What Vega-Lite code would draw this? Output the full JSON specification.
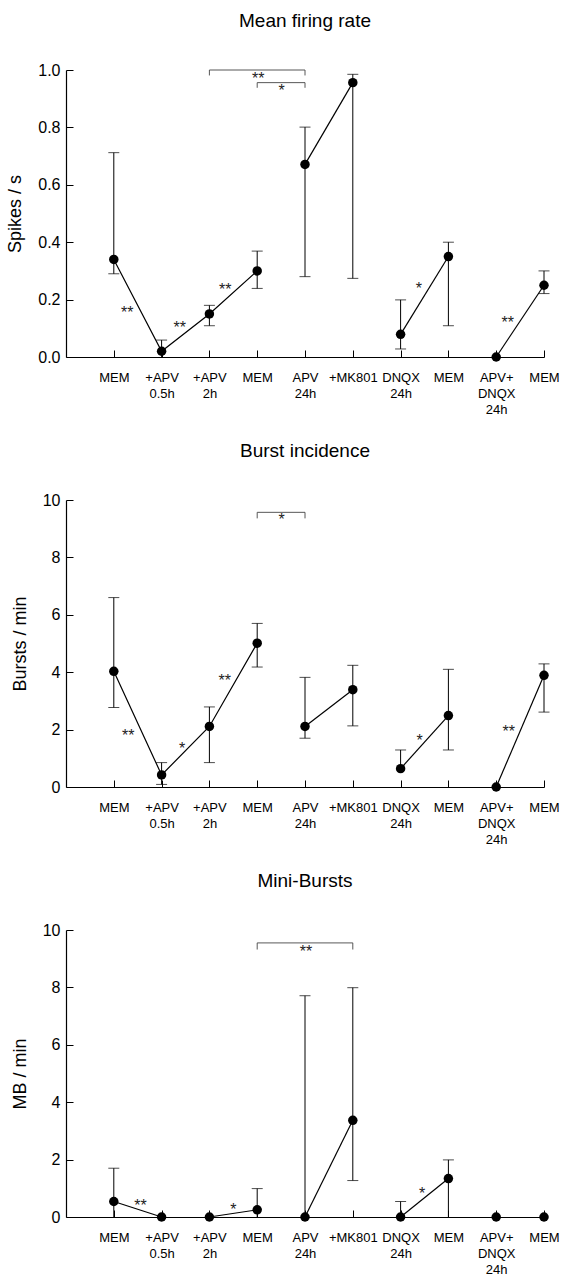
{
  "$schema": "https://vega.github.io/schema/vega-lite/v6.json",
  "background": "white",
  "padding": {"left": 6, "top": 12, "right": 5, "bottom": 5},
  "bounds": "flush",
  "spacing": 143,
  "config": {
    "font": "Liberation Sans",
    "view": {"stroke": null},
    "title": {"fontSize": 19, "fontWeight": "normal", "font": "Liberation Sans", "anchor": "middle", "baseline": "alphabetic", "offset": 31, "color": "black"},
    "axis": {"domainColor": "black", "domainWidth": 1.2, "tickColor": "black", "tickWidth": 1, "tickSize": -7, "grid": false, "labelColor": "black", "titleColor": "black", "labelFont": "Liberation Sans", "titleFont": "Liberation Sans"},
    "axisY": {"labelFontSize": 16, "labelPadding": 13, "titleFontSize": 18, "titleFontWeight": "normal", "titlePadding": 13},
    "axisX": {"labelFontSize": 13, "labelPadding": 21, "labelBaseline": "top", "labelLineHeight": 16, "labelAngle": 0, "labelOverlap": false, "labelFlush": false, "labelBound": false}
  },
  "datasets": {
    "p1": [
      {"x": 1, "y": 0.34, "lo": 0.29, "hi": 0.712, "seg": "a"},
      {"x": 2, "y": 0.02, "lo": 0, "hi": 0.059, "seg": "a"},
      {"x": 3, "y": 0.15, "lo": 0.109, "hi": 0.18, "seg": "a"},
      {"x": 4, "y": 0.30, "lo": 0.239, "hi": 0.369, "seg": "a"},
      {"x": 5, "y": 0.671, "lo": 0.28, "hi": 0.801, "seg": "b"},
      {"x": 6, "y": 0.956, "lo": 0.274, "hi": 0.985, "seg": "b"},
      {"x": 7, "y": 0.079, "lo": 0.028, "hi": 0.199, "seg": "c"},
      {"x": 8, "y": 0.35, "lo": 0.109, "hi": 0.40, "seg": "c"},
      {"x": 9, "y": 0.0, "lo": null, "hi": null, "seg": "d"},
      {"x": 10, "y": 0.25, "lo": 0.221, "hi": 0.30, "seg": "d"}
    ],
    "p2": [
      {"x": 1, "y": 4.03, "lo": 2.77, "hi": 6.60, "seg": "a"},
      {"x": 2, "y": 0.42, "lo": 0.09, "hi": 0.85, "seg": "a"},
      {"x": 3, "y": 2.11, "lo": 0.85, "hi": 2.79, "seg": "a"},
      {"x": 4, "y": 5.01, "lo": 4.18, "hi": 5.70, "seg": "a"},
      {"x": 5, "y": 2.11, "lo": 1.70, "hi": 3.82, "seg": "b"},
      {"x": 6, "y": 3.39, "lo": 2.13, "hi": 4.24, "seg": "b"},
      {"x": 7, "y": 0.64, "lo": 0.64, "hi": 1.29, "seg": "c"},
      {"x": 8, "y": 2.49, "lo": 1.29, "hi": 4.10, "seg": "c"},
      {"x": 9, "y": 0, "lo": null, "hi": null, "seg": "d"},
      {"x": 10, "y": 3.89, "lo": 2.61, "hi": 4.29, "seg": "d"}
    ],
    "p3": [
      {"x": 1, "y": 0.54, "lo": 0, "hi": 1.70, "seg": "a"},
      {"x": 2, "y": 0, "lo": null, "hi": null, "seg": "a"},
      {"x": 3, "y": 0, "lo": null, "hi": null, "seg": "b"},
      {"x": 4, "y": 0.25, "lo": 0, "hi": 0.99, "seg": "b"},
      {"x": 5, "y": 0, "lo": 0, "hi": 7.71, "seg": "c"},
      {"x": 6, "y": 3.37, "lo": 1.27, "hi": 7.99, "seg": "c"},
      {"x": 7, "y": 0, "lo": 0, "hi": 0.54, "seg": "d"},
      {"x": 8, "y": 1.34, "lo": 0, "hi": 1.99, "seg": "d"},
      {"x": 9, "y": 0, "lo": null, "hi": null, "seg": null},
      {"x": 10, "y": 0, "lo": null, "hi": null, "seg": null}
    ],
    "s1": [
      {"x": 1.28, "y": 0.166, "t": "**"},
      {"x": 2.38, "y": 0.114, "t": "**"},
      {"x": 3.33, "y": 0.247, "t": "**"},
      {"x": 7.38, "y": 0.25, "t": "*"},
      {"x": 9.24, "y": 0.134, "t": "**"},
      {"x": 4.02, "y": 0.984, "t": "**"},
      {"x": 4.51, "y": 0.942, "t": "*"}
    ],
    "s2": [
      {"x": 1.30, "y": 1.93, "t": "**"},
      {"x": 2.43, "y": 1.47, "t": "*"},
      {"x": 3.32, "y": 3.83, "t": "**"},
      {"x": 7.40, "y": 1.74, "t": "*"},
      {"x": 9.26, "y": 2.05, "t": "**"},
      {"x": 4.51, "y": 9.45, "t": "*"}
    ],
    "s3": [
      {"x": 1.56, "y": 0.54, "t": "**"},
      {"x": 3.50, "y": 0.37, "t": "*"},
      {"x": 7.45, "y": 0.95, "t": "*"},
      {"x": 5.02, "y": 9.38, "t": "**"}
    ],
    "b1": [
      {"x1": 3, "x2": 5, "y": 1.0, "yend": 0.981},
      {"x1": 4, "x2": 5, "y": 0.956, "yend": 0.938}
    ],
    "b2": [
      {"x1": 4, "x2": 5, "y": 9.57, "yend": 9.36}
    ],
    "b3": [
      {"x1": 4, "x2": 6, "y": 9.55, "yend": 9.32}
    ]
  },
  "vconcat": [
    {
      "title": "Mean firing rate",
      "width": 478, "height": 287,
      "layer": [
        {"data": {"name": "p1"}, "transform": [{"filter": "datum.hi != null"}], "mark": {"type": "rule", "color": "black", "strokeWidth": 1},
         "encoding": {
           "x": {"field": "x", "type": "quantitative", "scale": {"domain": [0, 10], "nice": false, "zero": false}, "title": null, "axis": {"values": [1,2,3,4,5,6,7,8,9,10], "labelExpr": "[['MEM'],['+APV','0.5h'],['+APV','2h'],['MEM'],['APV','24h'],['+MK801'],['DNQX','24h'],['MEM'],['APV+','DNQX','24h'],['MEM']][datum.value-1]"}},
           "y": {"field": "lo", "type": "quantitative", "scale": {"domain": [0, 1], "nice": false}, "title": "Spikes / s", "axis": {"values": [0, 0.2, 0.4, 0.6, 0.8, 1.0], "format": ".1f"}},
           "y2": {"field": "hi"}}},
        {"data": {"name": "p1"}, "transform": [{"filter": "datum.hi != null"}], "mark": {"type": "tick", "orient": "horizontal", "color": "black", "size": 11, "thickness": 1},
         "encoding": {"x": {"field": "x", "type": "quantitative", "title": null}, "y": {"field": "hi", "type": "quantitative", "title": "Spikes / s"}}},
        {"data": {"name": "p1"}, "transform": [{"filter": "datum.lo != null && datum.lo > 0 && datum.lo < datum.y"}], "mark": {"type": "tick", "orient": "horizontal", "color": "black", "size": 11, "thickness": 1},
         "encoding": {"x": {"field": "x", "type": "quantitative", "title": null}, "y": {"field": "lo", "type": "quantitative", "title": "Spikes / s"}}},
        {"data": {"name": "p1"}, "transform": [{"filter": "datum.seg != null"}], "mark": {"type": "line", "color": "black", "strokeWidth": 1.2},
         "encoding": {"x": {"field": "x", "type": "quantitative", "title": null}, "y": {"field": "y", "type": "quantitative", "title": "Spikes / s"}, "detail": {"field": "seg"}}},
        {"data": {"name": "p1"}, "mark": {"type": "point", "filled": true, "color": "black", "size": 90, "opacity": 1},
         "encoding": {"x": {"field": "x", "type": "quantitative", "title": null}, "y": {"field": "y", "type": "quantitative", "title": "Spikes / s"}}},
        {"data": {"name": "b1"}, "mark": {"type": "rule", "color": "#444", "strokeWidth": 0.9},
         "encoding": {"x": {"field": "x1", "type": "quantitative", "title": null}, "x2": {"field": "x2"}, "y": {"field": "y", "type": "quantitative", "title": "Spikes / s"}}},
        {"data": {"name": "b1"}, "mark": {"type": "rule", "color": "#444", "strokeWidth": 0.9},
         "encoding": {"x": {"field": "x1", "type": "quantitative", "title": null}, "y": {"field": "y", "type": "quantitative", "title": "Spikes / s"}, "y2": {"field": "yend"}}},
        {"data": {"name": "b1"}, "mark": {"type": "rule", "color": "#444", "strokeWidth": 0.9},
         "encoding": {"x": {"field": "x2", "type": "quantitative", "title": null}, "y": {"field": "y", "type": "quantitative", "title": "Spikes / s"}, "y2": {"field": "yend"}}},
        {"data": {"name": "s1"}, "mark": {"type": "text", "fontSize": 16, "color": "#222", "baseline": "middle", "dy": 4},
         "encoding": {"x": {"field": "x", "type": "quantitative", "title": null}, "y": {"field": "y", "type": "quantitative", "title": "Spikes / s"}, "text": {"field": "t"}}}
      ]
    },
    {
      "title": "Burst incidence",
      "width": 478, "height": 287,
      "layer": [
        {"data": {"name": "p2"}, "transform": [{"filter": "datum.hi != null"}], "mark": {"type": "rule", "color": "black", "strokeWidth": 1},
         "encoding": {
           "x": {"field": "x", "type": "quantitative", "scale": {"domain": [0, 10], "nice": false, "zero": false}, "title": null, "axis": {"values": [1,2,3,4,5,6,7,8,9,10], "labelExpr": "[['MEM'],['+APV','0.5h'],['+APV','2h'],['MEM'],['APV','24h'],['+MK801'],['DNQX','24h'],['MEM'],['APV+','DNQX','24h'],['MEM']][datum.value-1]"}},
           "y": {"field": "lo", "type": "quantitative", "scale": {"domain": [0, 10], "nice": false}, "title": "Bursts / min", "axis": {"values": [0, 2, 4, 6, 8, 10]}},
           "y2": {"field": "hi"}}},
        {"data": {"name": "p2"}, "transform": [{"filter": "datum.hi != null"}], "mark": {"type": "tick", "orient": "horizontal", "color": "black", "size": 11, "thickness": 1},
         "encoding": {"x": {"field": "x", "type": "quantitative", "title": null}, "y": {"field": "hi", "type": "quantitative", "title": "Bursts / min"}}},
        {"data": {"name": "p2"}, "transform": [{"filter": "datum.lo != null && datum.lo > 0 && datum.lo < datum.y"}], "mark": {"type": "tick", "orient": "horizontal", "color": "black", "size": 11, "thickness": 1},
         "encoding": {"x": {"field": "x", "type": "quantitative", "title": null}, "y": {"field": "lo", "type": "quantitative", "title": "Bursts / min"}}},
        {"data": {"name": "p2"}, "transform": [{"filter": "datum.seg != null"}], "mark": {"type": "line", "color": "black", "strokeWidth": 1.2},
         "encoding": {"x": {"field": "x", "type": "quantitative", "title": null}, "y": {"field": "y", "type": "quantitative", "title": "Bursts / min"}, "detail": {"field": "seg"}}},
        {"data": {"name": "p2"}, "mark": {"type": "point", "filled": true, "color": "black", "size": 90, "opacity": 1},
         "encoding": {"x": {"field": "x", "type": "quantitative", "title": null}, "y": {"field": "y", "type": "quantitative", "title": "Bursts / min"}}},
        {"data": {"name": "b2"}, "mark": {"type": "rule", "color": "#444", "strokeWidth": 0.9},
         "encoding": {"x": {"field": "x1", "type": "quantitative", "title": null}, "x2": {"field": "x2"}, "y": {"field": "y", "type": "quantitative", "title": "Bursts / min"}}},
        {"data": {"name": "b2"}, "mark": {"type": "rule", "color": "#444", "strokeWidth": 0.9},
         "encoding": {"x": {"field": "x1", "type": "quantitative", "title": null}, "y": {"field": "y", "type": "quantitative", "title": "Bursts / min"}, "y2": {"field": "yend"}}},
        {"data": {"name": "b2"}, "mark": {"type": "rule", "color": "#444", "strokeWidth": 0.9},
         "encoding": {"x": {"field": "x2", "type": "quantitative", "title": null}, "y": {"field": "y", "type": "quantitative", "title": "Bursts / min"}, "y2": {"field": "yend"}}},
        {"data": {"name": "s2"}, "mark": {"type": "text", "fontSize": 16, "color": "#222", "baseline": "middle", "dy": 4},
         "encoding": {"x": {"field": "x", "type": "quantitative", "title": null}, "y": {"field": "y", "type": "quantitative", "title": "Bursts / min"}, "text": {"field": "t"}}}
      ]
    },
    {
      "title": "Mini-Bursts",
      "width": 478, "height": 287,
      "layer": [
        {"data": {"name": "p3"}, "transform": [{"filter": "datum.hi != null"}], "mark": {"type": "rule", "color": "black", "strokeWidth": 1},
         "encoding": {
           "x": {"field": "x", "type": "quantitative", "scale": {"domain": [0, 10], "nice": false, "zero": false}, "title": null, "axis": {"values": [1,2,3,4,5,6,7,8,9,10], "labelExpr": "[['MEM'],['+APV','0.5h'],['+APV','2h'],['MEM'],['APV','24h'],['+MK801'],['DNQX','24h'],['MEM'],['APV+','DNQX','24h'],['MEM']][datum.value-1]"}},
           "y": {"field": "lo", "type": "quantitative", "scale": {"domain": [0, 10], "nice": false}, "title": "MB / min", "axis": {"values": [0, 2, 4, 6, 8, 10]}},
           "y2": {"field": "hi"}}},
        {"data": {"name": "p3"}, "transform": [{"filter": "datum.hi != null"}], "mark": {"type": "tick", "orient": "horizontal", "color": "black", "size": 11, "thickness": 1},
         "encoding": {"x": {"field": "x", "type": "quantitative", "title": null}, "y": {"field": "hi", "type": "quantitative", "title": "MB / min"}}},
        {"data": {"name": "p3"}, "transform": [{"filter": "datum.lo != null && datum.lo > 0 && datum.lo < datum.y"}], "mark": {"type": "tick", "orient": "horizontal", "color": "black", "size": 11, "thickness": 1},
         "encoding": {"x": {"field": "x", "type": "quantitative", "title": null}, "y": {"field": "lo", "type": "quantitative", "title": "MB / min"}}},
        {"data": {"name": "p3"}, "transform": [{"filter": "datum.seg != null"}], "mark": {"type": "line", "color": "black", "strokeWidth": 1.2},
         "encoding": {"x": {"field": "x", "type": "quantitative", "title": null}, "y": {"field": "y", "type": "quantitative", "title": "MB / min"}, "detail": {"field": "seg"}}},
        {"data": {"name": "p3"}, "mark": {"type": "point", "filled": true, "color": "black", "size": 90, "opacity": 1},
         "encoding": {"x": {"field": "x", "type": "quantitative", "title": null}, "y": {"field": "y", "type": "quantitative", "title": "MB / min"}}},
        {"data": {"name": "b3"}, "mark": {"type": "rule", "color": "#444", "strokeWidth": 0.9},
         "encoding": {"x": {"field": "x1", "type": "quantitative", "title": null}, "x2": {"field": "x2"}, "y": {"field": "y", "type": "quantitative", "title": "MB / min"}}},
        {"data": {"name": "b3"}, "mark": {"type": "rule", "color": "#444", "strokeWidth": 0.9},
         "encoding": {"x": {"field": "x1", "type": "quantitative", "title": null}, "y": {"field": "y", "type": "quantitative", "title": "MB / min"}, "y2": {"field": "yend"}}},
        {"data": {"name": "b3"}, "mark": {"type": "rule", "color": "#444", "strokeWidth": 0.9},
         "encoding": {"x": {"field": "x2", "type": "quantitative", "title": null}, "y": {"field": "y", "type": "quantitative", "title": "MB / min"}, "y2": {"field": "yend"}}},
        {"data": {"name": "s3"}, "mark": {"type": "text", "fontSize": 16, "color": "#222", "baseline": "middle", "dy": 4},
         "encoding": {"x": {"field": "x", "type": "quantitative", "title": null}, "y": {"field": "y", "type": "quantitative", "title": "MB / min"}, "text": {"field": "t"}}}
      ]
    }
  ]
}
